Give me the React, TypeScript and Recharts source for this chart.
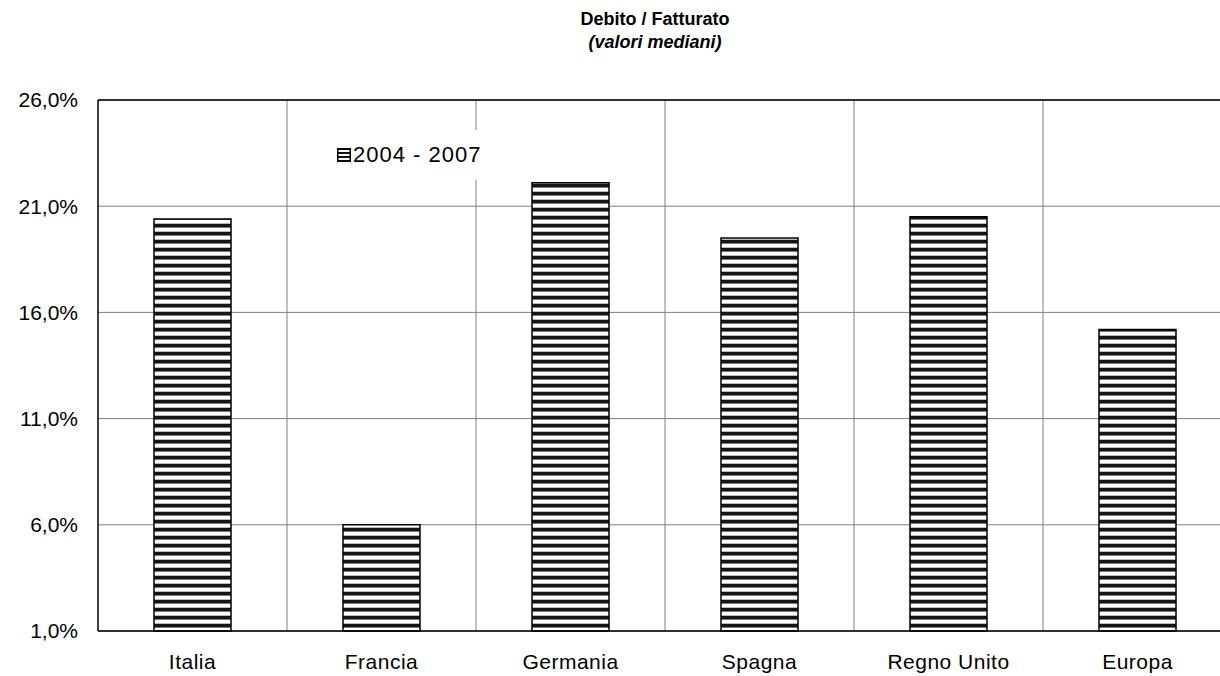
import { BarChart, Bar, XAxis, YAxis, CartesianGrid, ReferenceLine } from "recharts";

// values (median debt / revenue, %)
const categories = ["Italia", "Francia", "Germania", "Spagna", "Regno Unito", "Europa"];
const values2004to2007 = [20.4, 6.0, 22.1, 19.5, 20.5, 15.2];
const yTicks = [1, 6, 11, 16, 21, 26];
const seriesName = "2004 - 2007";
const title = "Debito / Fatturato";
const subtitle = "(valori mediani)";

const data = categories.map((c, i) => ({ category: c, value: values2004to2007[i] }));

const FONT = '"Liberation Sans", Arial, sans-serif';

function pct(v: number): string {
  return v.toFixed(1).replace(".", ",") + "%";
}

function Stripes({ id }: { id: string }) {
  return (
    <pattern id={id} width="8" height="8" patternUnits="userSpaceOnUse">
      <rect width="8" height="8" fill="#fff" />
      <rect y="0" width="8" height="3" fill="#151515" />
      <rect y="3" width="8" height="1" fill="#7a7a7a" />
      <rect y="7" width="8" height="1" fill="#b8b8b8" />
    </pattern>
  );
}

export default function App() {
  return (
    <div
      style={{
        position: "fixed",
        left: 0,
        top: 0,
        width: 1220,
        height: 676,
        overflow: "hidden",
        background: "#fff",
        fontFamily: FONT,
      }}
    >
      <div
        style={{
          position: "absolute",
          left: 455,
          width: 400,
          top: 8,
          textAlign: "center",
          fontSize: 18,
          fontWeight: "bold",
          lineHeight: "23px",
          color: "#000",
        }}
      >
        <div>{title}</div>
        <div style={{ fontStyle: "italic" }}>{subtitle}</div>
      </div>

      <BarChart
        width={1232}
        height={676}
        data={data}
        margin={{ top: 100, right: 0, bottom: 0, left: 0 }}
        barSize={77}
        style={{ position: "absolute", left: 0, top: 0 }}
      >
        <defs>
          <Stripes id="hstripes" />
        </defs>
        <CartesianGrid
          stroke="#808080"
          strokeWidth={1}
          verticalCoordinatesGenerator={({ offset }: any) =>
            [1, 2, 3, 4, 5].map((i) => offset.left + (i * offset.width) / categories.length)
          }
        />
        <XAxis
          dataKey="category"
          height={45}
          interval={0}
          tickLine={false}
          tickSize={0}
          tickMargin={23}
          axisLine={{ stroke: "#000", strokeWidth: 1.5 }}
          tick={{ fill: "#000", fontSize: 21, fontFamily: FONT, letterSpacing: 0.5 }}
        />
        <YAxis
          width={98}
          domain={[1, 26]}
          ticks={yTicks}
          interval={0}
          tickFormatter={pct}
          tickLine={false}
          tickSize={0}
          tickMargin={20}
          axisLine={{ stroke: "#000", strokeWidth: 1.5 }}
          tick={{ fill: "#000", fontSize: 21, fontFamily: FONT }}
        />
        <ReferenceLine y={26} stroke="#000" strokeWidth={1.5} />
        <Bar
          dataKey="value"
          name={seriesName}
          fill="url(#hstripes)"
          stroke="#000"
          strokeWidth={1.5}
          isAnimationActive={false}
        />
      </BarChart>

      <div
        style={{
          position: "absolute",
          left: 330,
          top: 130,
          width: 160,
          height: 50,
          background: "#fff",
          display: "flex",
          alignItems: "center",
        }}
      >
        <svg width="14" height="14" style={{ marginLeft: 7, marginRight: 2 }}>
          <defs>
            <pattern id="legstripes" width="4" height="4" patternUnits="userSpaceOnUse">
              <rect width="4" height="4" fill="#fff" />
              <rect y="0" width="4" height="2" fill="#151515" />
            </pattern>
          </defs>
          <rect x="0.75" y="0.75" width="12.5" height="12.5" fill="url(#legstripes)" stroke="#000" strokeWidth="1.5" />
        </svg>
        <span style={{ fontSize: 22, color: "#000", letterSpacing: 1 }}>{seriesName}</span>
      </div>
    </div>
  );
}
